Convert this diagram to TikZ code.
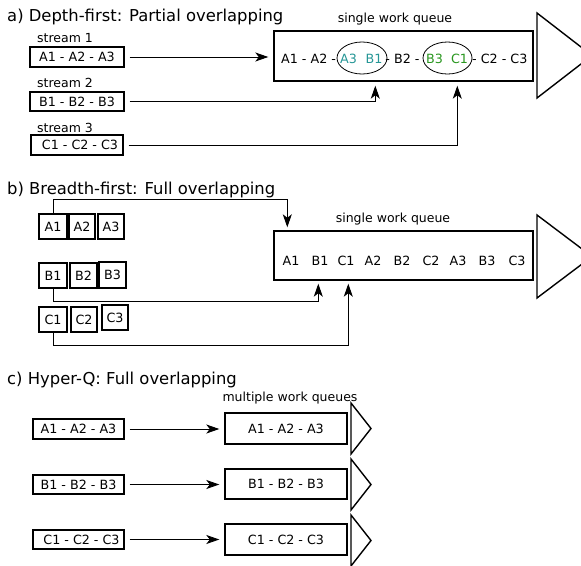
\documentclass[tikz,border=0pt]{standalone}
\usepackage{fontspec}
\setmainfont{DejaVu Sans}
\usetikzlibrary{arrows.meta,calc,shapes.geometric}
\definecolor{tealq}{RGB}{38,150,150}
\definecolor{greenq}{RGB}{40,150,30}
\begin{document}
\begin{tikzpicture}[x=1pt,y=-1pt,
  box/.style={draw,line width=1.4pt,inner sep=0pt,font=\fontsize{12.7}{14}\selectfont},
  lbl/.style={inner sep=0pt,font=\fontsize{12.5}{14}\selectfont},
  qt/.style={inner sep=0pt,anchor=base,font=\fontsize{12.7}{14}\selectfont},
  ttl/.style={inner sep=0pt,anchor=base west,font=\fontsize{16.4}{19}\selectfont},
  conn/.style={line width=0.9pt},
  arr/.style={conn,-{Stealth[length=13pt,width=9pt,inset=3.5pt]}},
  tri/.style={line width=1.4pt,line join=miter},
  oval/.style={draw,ellipse,line width=0.8pt,inner sep=0pt}]
\useasboundingbox (0,0) rectangle (581,565);

% ---------------- a) ----------------
\node[ttl] (ta) at (7,21) {a) Depth-first: Partial overlapping};
\node[lbl,anchor=base west] (s1) at (37,42) {stream 1};
\node[lbl,anchor=base west] (s2) at (37,87) {stream 2};
\node[lbl,anchor=base west] (s3) at (37,132) {stream 3};
\node[box,minimum width=94pt,minimum height=20pt] (bA) at (77,57) {A1 - A2 - A3};
\node[box,minimum width=94pt,minimum height=19pt] (bB) at (77,101.5) {B1 - B2 - B3};
\node[box,minimum width=92pt,minimum height=20pt] (bC) at (77,145) {\hspace*{6pt}C1 - C2 - C3};
\node[box,minimum width=259pt,minimum height=50pt] (qa) at (403.5,56) {};
\node[lbl,anchor=base] (qal) at (395,22) {single work queue};
\node[oval,minimum width=50pt,minimum height=32pt] (e1) at (362,58) {};
\node[oval,minimum width=49pt,minimum height=32pt] (e2) at (447.5,58) {};
\node[qt,anchor=base west] (a1) at (281,63) {A1 - A2 -};
\node[qt,text=tealq] (a2) at (348.5,63) {A3};
\node[qt,text=tealq] (a3) at (374,63) {B1};
\node[qt] (a4) at (402.5,63) {- B2 -};
\node[qt,text=greenq] (a5) at (434.5,63) {B3};
\node[qt,text=greenq] (a6) at (459.5,63) {C1};
\node[qt,anchor=base west] (a7) at (472,63) {- C2 - C3};
\draw[tri] (537,13) -- (537,98) -- (592,55.5) -- cycle;
\draw[arr,shorten <=5pt,shorten >=5pt] (bA.east) -- (bA.east -| qa.west);
\draw[arr,shorten <=5pt,shorten >=4pt] (bB.east) -| ([xshift=102pt]qa.south west);
\draw[arr,shorten <=5pt,shorten >=4pt] (bC.east) -| ([xshift=184pt]qa.south west);

% ---------------- b) ----------------
\node[ttl] (tb) at (7,194) {b) Breadth-first: Full overlapping};
\node[box,minimum width=28pt,minimum height=25pt] (bA1) at (53,226.5) {A1};
\node[box,minimum width=26pt,minimum height=25pt] (bA2) at (82,226.5) {A2};
\node[box,minimum width=26pt,minimum height=25pt] (bA3) at (111,226.5) {A3};
\node[box,minimum width=28pt,minimum height=25pt] (bB1) at (53,275.5) {B1};
\node[box,minimum width=27pt,minimum height=25pt] (bB2) at (83.5,275.5) {B2};
\node[box,minimum width=27pt,minimum height=26pt] (bB3) at (112.5,275) {B3};
\node[box,minimum width=28pt,minimum height=25pt] (bC1) at (53,319.5) {C1};
\node[box,minimum width=26pt,minimum height=25pt] (bC2) at (84,319.5) {C2};
\node[box,minimum width=26pt,minimum height=25pt] (bC3) at (115,317.5) {C3};
\node[box,minimum width=259pt,minimum height=49pt] (qb) at (403.5,255.5) {};
\node[lbl,anchor=base] (qbl) at (393,222) {single work queue};
\node[qt] (q1) at (291,265) {A1};
\node[qt] (q2) at (320,265) {B1};
\node[qt] (q3) at (346,265) {C1};
\node[qt] (q4) at (373,265) {A2};
\node[qt] (q5) at (402,265) {B2};
\node[qt] (q6) at (431,265) {C2};
\node[qt] (q7) at (458,265) {A3};
\node[qt] (q8) at (487,265) {B3};
\node[qt] (q9) at (517,265) {C3};
\draw[tri] (537,215) -- (537,298) -- (592,256.5) -- cycle;
\draw[arr,shorten >=3pt] (bA1.north) -- ++(0,-14) -| ([xshift=14pt]qb.north west);
\draw[arr,shorten >=3pt] (bB1.south) -- ++(0,13) -| ([xshift=45pt]qb.south west);
\draw[arr,shorten >=3pt] (bC1.south) -- ++(0,13) -| ([xshift=75pt]qb.south west);

% ---------------- c) ----------------
\node[ttl] (tc) at (7,384) {c) Hyper-Q: Full overlapping};
\node[lbl,anchor=base] (mq) at (290,401) {multiple work queues};
\node[box,minimum width=91pt,minimum height=20pt] (cA) at (78.5,429) {A1 - A2 - A3};
\node[box,minimum width=91pt,minimum height=19pt] (cB) at (78.5,484.5) {B1 - B2 - B3};
\node[box,minimum width=91pt,minimum height=19pt] (cC) at (78.5,539.5) {\hspace*{6pt}C1 - C2 - C3};
\node[box,minimum width=122pt,minimum height=31pt] (cqA) at (286,428.5) {A1 - A2 - A3};
\node[box,minimum width=122pt,minimum height=30pt] (cqB) at (286,484) {B1 - B2 - B3};
\node[box,minimum width=122pt,minimum height=31pt] (cqC) at (286,539.5) {C1 - C2 - C3};
\draw[tri] (351,403) -- (351,454) -- (371,428.5) -- cycle;
\draw[tri] (351,459) -- (351,510) -- (371,484.5) -- cycle;
\draw[tri] (351,515) -- (351,566) -- (371,540.5) -- cycle;
\draw[arr,shorten <=5pt,shorten >=5pt] (cA.east) -- (cA.east -| cqA.west);
\draw[arr,shorten <=5pt,shorten >=5pt] (cB.east) -- (cB.east -| cqB.west);
\draw[arr,shorten <=5pt,shorten >=5pt] (cC.east) -- (cC.east -| cqC.west);
\end{tikzpicture}
\end{document}
